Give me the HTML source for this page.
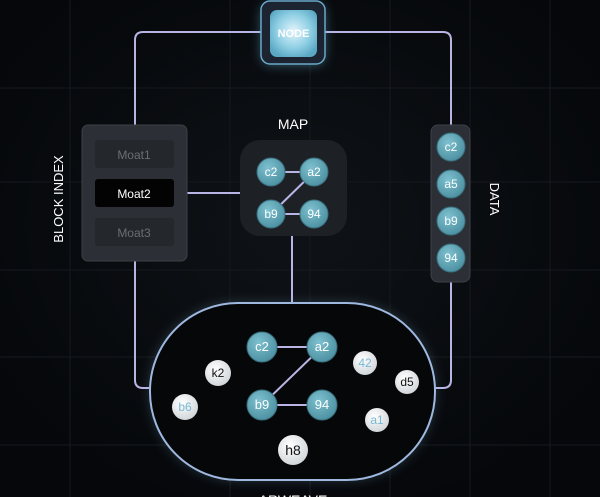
<!DOCTYPE html>
<html><head><meta charset="utf-8"><style>
html,body{margin:0;padding:0;background:#07090b;}
svg{display:block;font-family:"Liberation Sans",sans-serif;}
</style></head><body>
<svg width="600" height="497" viewBox="0 0 600 497" xmlns="http://www.w3.org/2000/svg">
<defs>
<radialGradient id="bg" cx="50%" cy="45%" r="60%"><stop offset="0" stop-color="#0f1317"/><stop offset="1" stop-color="#05070a"/></radialGradient>
<radialGradient id="tc" cx="40%" cy="35%" r="70%"><stop offset="0" stop-color="#7ec0cf"/><stop offset="1" stop-color="#4a8fa0"/></radialGradient>
<radialGradient id="wc" cx="40%" cy="35%" r="70%"><stop offset="0" stop-color="#ffffff"/><stop offset="1" stop-color="#cfd4d8"/></radialGradient>
<radialGradient id="nd" cx="50%" cy="45%" r="60%"><stop offset="0" stop-color="#e4f4fb"/><stop offset="0.6" stop-color="#8fcfe4"/><stop offset="1" stop-color="#5aa8c4"/></radialGradient>
<filter id="gl" x="-50%" y="-50%" width="200%" height="200%"><feGaussianBlur stdDeviation="6"/></filter>
</defs>
<rect width="600" height="497" fill="url(#bg)"/>
<g stroke="#151a1f" stroke-width="1">
<line x1="70" y1="0" x2="70" y2="497"/><line x1="230" y1="0" x2="230" y2="497"/><line x1="310" y1="0" x2="310" y2="497"/><line x1="390" y1="0" x2="390" y2="497"/><line x1="470" y1="0" x2="470" y2="497"/><line x1="550" y1="0" x2="550" y2="497"/>
<line x1="0" y1="88" x2="600" y2="88"/><line x1="0" y1="182" x2="600" y2="182"/><line x1="0" y1="270" x2="600" y2="270"/><line x1="0" y1="357" x2="600" y2="357"/><line x1="0" y1="445" x2="600" y2="445"/>
</g>
<g fill="none" stroke="#b9b4e4" stroke-width="2">
<path d="M135 125 V40 Q135 32 143 32 H262"/>
<path d="M325 32 H443 Q451 32 451 40 V125"/>
<path d="M135 260 V380 Q135 388 143 388 H152"/>
<path d="M451 282 V380 Q451 388 443 388 H434"/>
<line x1="187" y1="193" x2="240" y2="193"/>
<line x1="292" y1="235" x2="292" y2="303"/>
</g>
<rect x="262" y="4" width="62" height="60" rx="9" fill="#6fc5e8" opacity="0.5" filter="url(#gl)"/>
<rect x="261" y="1" width="64" height="63" rx="9" fill="#1b2430" stroke="#6aa8c8" stroke-width="1.5"/>
<rect x="270" y="10" width="47" height="47" rx="7" fill="url(#nd)"/>
<text x="293.5" y="37" font-size="11" font-weight="bold" fill="#fff" text-anchor="middle">NODE</text>
<rect x="82" y="125" width="105" height="136" rx="6" fill="#2c3036" stroke="#3c4148"/>
<rect x="95" y="140" width="79" height="28" rx="3" fill="#24272c"/>
<rect x="95" y="179" width="79" height="28" rx="3" fill="#030303"/>
<rect x="95" y="218" width="79" height="28" rx="3" fill="#24272c"/>
<text x="134" y="159" font-size="12" fill="#6a6e74" text-anchor="middle">Moat1</text>
<text x="134" y="198" font-size="12" fill="#fff" text-anchor="middle">Moat2</text>
<text x="134" y="237" font-size="12" fill="#6a6e74" text-anchor="middle">Moat3</text>
<text transform="translate(63,199) rotate(-90)" font-size="13" fill="#fff" text-anchor="middle">BLOCK INDEX</text>
<text x="293" y="129" font-size="14" fill="#fff" text-anchor="middle">MAP</text>
<rect x="240" y="140" width="107" height="96" rx="20" fill="#1d2024"/>
<g stroke="#b9b4e4" stroke-width="2"><line x1="271" y1="172" x2="314" y2="172"/><line x1="314" y1="172" x2="271" y2="214"/><line x1="271" y1="214" x2="314" y2="214"/></g>
<g fill="url(#tc)" stroke="#3a7080"><circle cx="271" cy="172" r="14"/><circle cx="314" cy="172" r="14"/><circle cx="271" cy="214" r="14"/><circle cx="314" cy="214" r="14"/></g>
<g font-size="12" fill="#fff" text-anchor="middle"><text x="271" y="176">c2</text><text x="314" y="176">a2</text><text x="271" y="218">b9</text><text x="314" y="218">94</text></g>
<rect x="431" y="125" width="39" height="157" rx="7" fill="#2c3036" stroke="#3c4148"/>
<g fill="url(#tc)" stroke="#3a7080"><circle cx="451" cy="147" r="14"/><circle cx="451" cy="184" r="14"/><circle cx="451" cy="221" r="14"/><circle cx="451" cy="258" r="14"/></g>
<g font-size="12" fill="#fff" text-anchor="middle"><text x="451" y="151">c2</text><text x="451" y="188">a5</text><text x="451" y="225">b9</text><text x="451" y="262">94</text></g>
<text transform="translate(490,199) rotate(90)" font-size="13" fill="#fff" text-anchor="middle">DATA</text>
<rect x="150" y="303" width="285" height="177" rx="88" fill="#8ec8e8" opacity="0.25" filter="url(#gl)"/>
<rect x="150" y="303" width="285" height="177" rx="88" fill="#060708" stroke="#9fb8e0" stroke-width="2"/>
<g stroke="#b9b4e4" stroke-width="2"><line x1="262" y1="347" x2="322" y2="347"/><line x1="322" y1="347" x2="262" y2="405"/><line x1="262" y1="405" x2="322" y2="405"/></g>
<g fill="url(#tc)" stroke="#3a7080"><circle cx="262" cy="347" r="15"/><circle cx="322" cy="347" r="15"/><circle cx="262" cy="405" r="15"/><circle cx="322" cy="405" r="15"/></g>
<g font-size="13" fill="#fff" text-anchor="middle"><text x="262" y="351">c2</text><text x="322" y="351">a2</text><text x="262" y="409">b9</text><text x="322" y="409">94</text></g>
<g fill="url(#wc)"><circle cx="218" cy="373" r="13"/><circle cx="185" cy="407" r="13"/><circle cx="365" cy="363" r="12"/><circle cx="407" cy="382" r="12"/><circle cx="377" cy="420" r="12"/><circle cx="293" cy="450" r="15"/></g>
<g font-size="12" text-anchor="middle"><text x="218" y="377" fill="#111">k2</text><text x="185" y="411" fill="#7ab8d4">b6</text><text x="365" y="367" fill="#7ab8d4">42</text><text x="407" y="386" fill="#111">d5</text><text x="377" y="424" fill="#7ab8d4">a1</text><text x="293" y="455" fill="#111" font-size="14">h8</text></g>
<text x="293" y="505" font-size="14" fill="#fff" text-anchor="middle">ARWEAVE</text>
</svg>
</body></html>
